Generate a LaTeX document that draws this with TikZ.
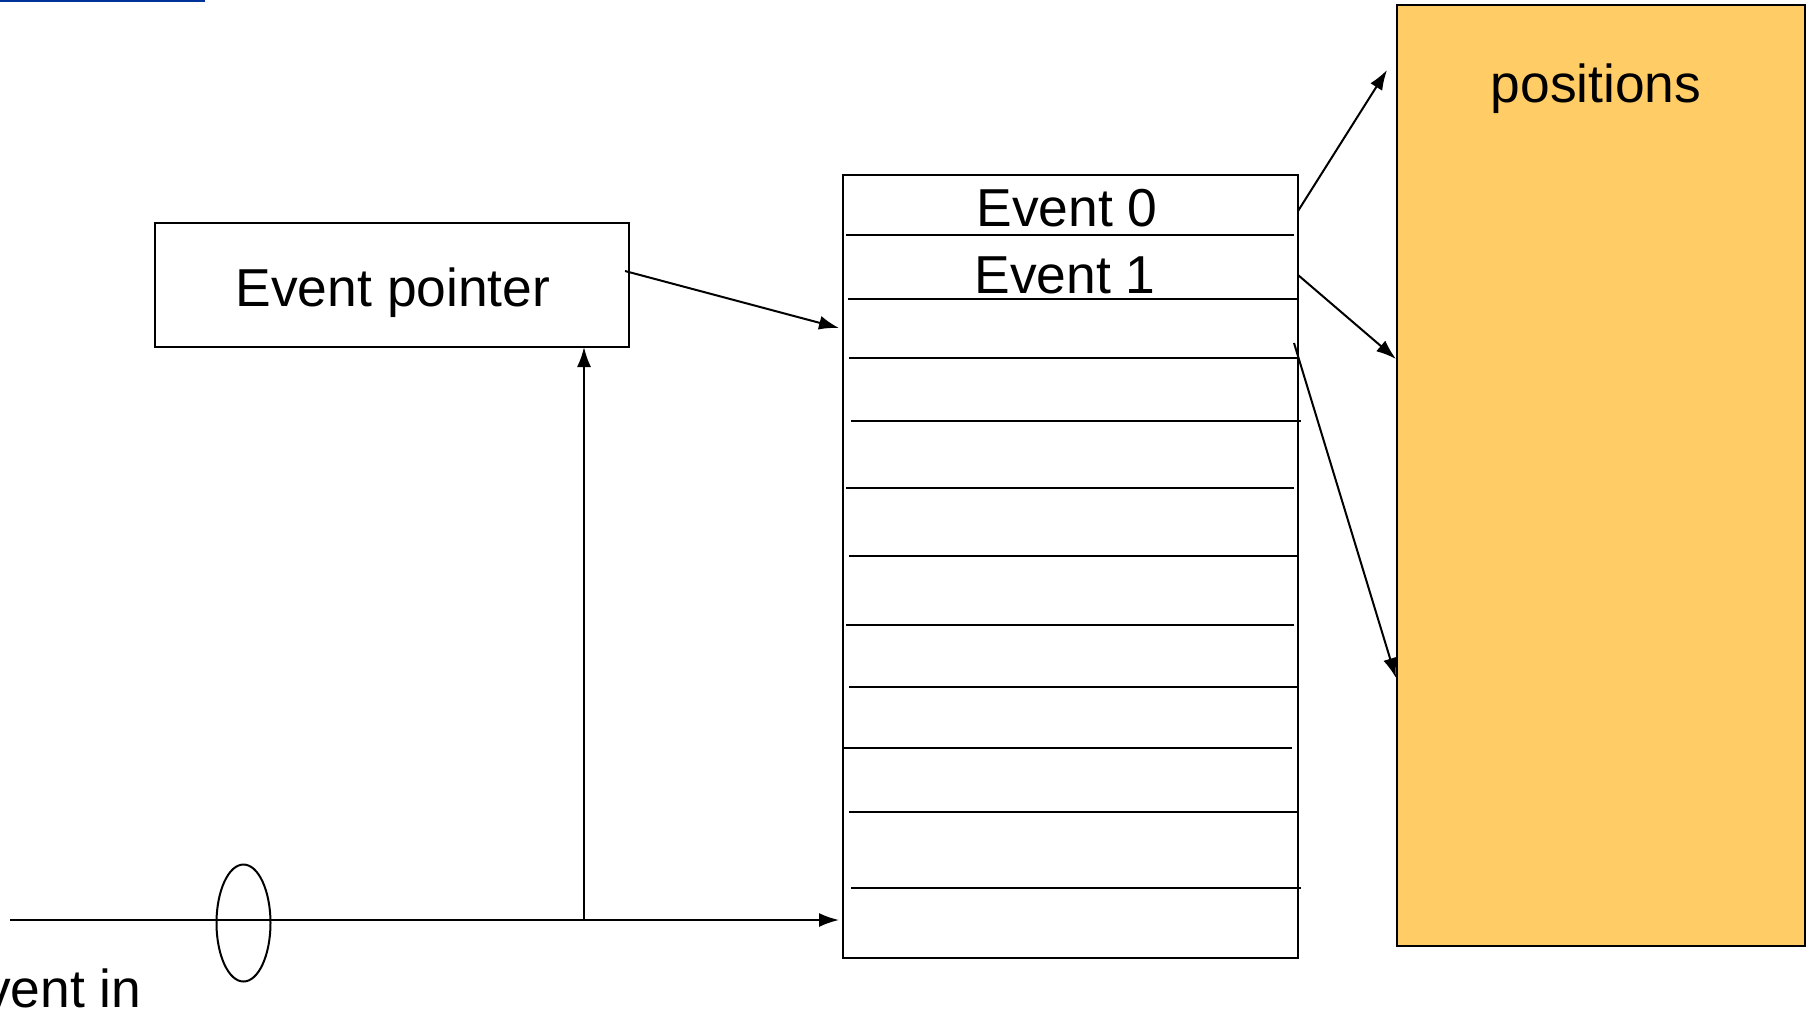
\documentclass[tikz,border=0pt]{standalone}
\usepackage{fontspec}
\setmainfont{Liberation Sans}
\usetikzlibrary{arrows.meta,shapes.geometric}
\definecolor{posfill}{RGB}{255,204,102}
\definecolor{linkblue}{RGB}{0,51,153}
\begin{document}
\begin{tikzpicture}[x=0.5pt,y=-0.5pt,
  box/.style={draw=black,line width=1pt,rectangle,inner sep=0pt,outer sep=0pt,anchor=north west},
  lbl/.style={inner sep=0pt,anchor=base,font=\fontsize{26.7}{30}\selectfont},
  rowline/.style={line width=1pt},
  conn/.style={line width=1pt,-{Latex[length=10pt,width=7pt]}}]
\useasboundingbox (0,0) rectangle (1809,1013);
\clip (0,0) rectangle (1809,1013);
% underline stub at the top edge
\fill[linkblue] (0,0) rectangle (205,2);
% boxes
\node[box,minimum width=237pt,minimum height=62pt] (eptr) at (155,223) {};
\node[box,minimum width=227.5pt,minimum height=391.5pt] (table) at (843,175) {};
\node[box,fill=posfill,minimum width=204pt,minimum height=470.5pt] (pos) at (1397,5) {};
% table rows
\foreach \xa/\xb/\yy in {846/1294/235, 848/1298/299, 849/1298/358, 851/1301/421,
  846/1294/488, 849/1298/556, 846/1294/625, 849/1298/687, 843/1292/748,
  849/1298/812, 851/1301/888}
  \draw[rowline] (\xa,\yy) -- (\xb,\yy);
% labels
\node[lbl] (tptr) at (393,306) {Event pointer};
\node[lbl] (tev0) at (1067,226) {Event 0};
\node[lbl] (tev1) at (1065,293) {Event 1};
\node[lbl] (tpos) at (1596,102) {positions};
\node[lbl,anchor=base east] (tin) at (142,1007) {Event in};
% input gate
\node[draw,ellipse,line width=1pt,inner sep=0pt,minimum width=27pt,minimum height=58.5pt] (gate) at (243.5,923) {};
% connector end points
\coordinate (inA) at (10,920);
\coordinate (inB) at (839,920);
\coordinate (jn) at (584,920);
\coordinate (pA) at (625,271);
\coordinate (pB) at (839,328);
\coordinate (r0) at (1298,211);
\coordinate (q0) at (1387,70);
\coordinate (r1) at (1298,275);
\coordinate (q1) at (1396,359);
\coordinate (r2) at (1294,343);
\coordinate (q2) at (1396,678);
% connectors
\draw[conn] (inA) -- (inB);
\draw[conn] (jn) -- (jn |- eptr.south);
\draw[conn] (pA) -- (pB);
\draw[conn] (r0) -- (q0);
\draw[conn] (r1) -- (q1);
\draw[conn] (r2) -- (q2);
\end{tikzpicture}
\end{document}
